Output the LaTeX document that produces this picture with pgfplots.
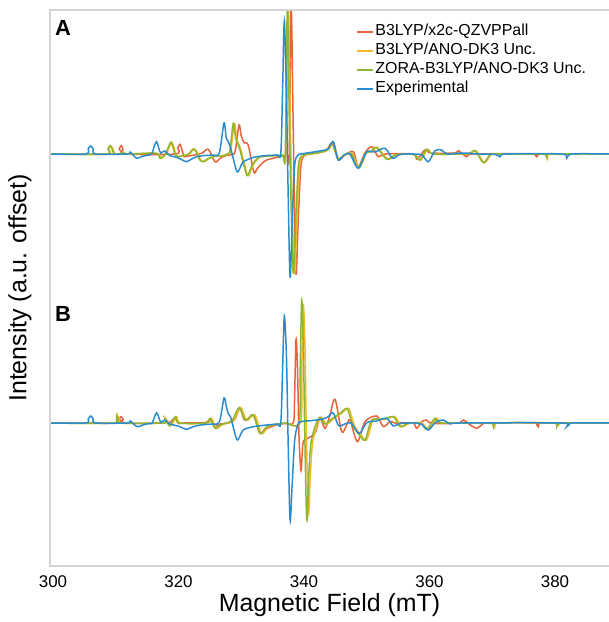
\documentclass[border=0pt]{standalone}
\usepackage{pgfplots}
\pgfplotsset{compat=1.18}
\usepackage{fontspec}
\setmainfont{Liberation Sans}
\definecolor{cRed}{RGB}{232,98,60}
\definecolor{cYel}{RGB}{242,184,40}
\definecolor{cGrn}{RGB}{140,182,52}
\definecolor{cBlu}{RGB}{42,140,208}
\definecolor{cFrame}{RGB}{212,212,212}
\begin{document}
\begin{tikzpicture}
\useasboundingbox (0,0) rectangle (609bp,622bp);
\begin{axis}[
 at={(50bp,56bp)}, anchor=south west,
 scale only axis, width=559bp, height=556bp,
 xmin=299.52, xmax=388.6, ymin=0, ymax=556,
 xtick={300,320,...,380}, ytick=\empty,
 major tick length=0pt,
 axis line style={draw=none},
 /pgf/number format/assume math mode=true,
 /pgf/number format/1000 sep={},
 xticklabel style={font=\fontsize{17}{20}\selectfont, anchor=center, yshift=-16bp},
 xlabel={Magnetic Field (mT)},
 ylabel={Intensity (a.u. offset)},
 every axis x label/.style={at={(axis description cs:0.5,-0.0705)}, anchor=center, font=\fontsize{25}{29}\selectfont},
 every axis y label/.style={at={(axis description cs:-0.0537,0.5)}, rotate=90, anchor=center, font=\fontsize{25}{29}\selectfont},
 legend style={draw=none, fill=none, at={(axis description cs:0.548,0.977)}, anchor=north west, font=\fontsize{16}{19}\selectfont, row sep=1bp, inner sep=0pt, nodes={inner sep=1.5bp, text height=11.5bp, text depth=3.5bp}},
 legend cell align=left,
 legend image code/.code={\draw[#1, line width=1.4pt] (0bp,0bp) -- (16bp,0bp);},
 every axis plot/.append style={line width=1.5pt, smooth},
 extra description/.code={\draw[cFrame, line width=1.4pt] (rel axis cs:1,1) -- (rel axis cs:0,1) -- (rel axis cs:0,0) -- (rel axis cs:1,0);},
]
% ---------------- Panel A (baseline 412) ----------------
\addplot[cRed] coordinates {(299.5,412) (310.2,412) (310.55,417) (310.85,420.3) (311.15,417) (311.5,412) (319.5,412) (319.9,418) (320.24,421.7) (320.6,415) (320.9,409.3) (321.6,410) (322.6,411) (323.8,413) (324.75,416.7) (325.81,404.3) (326.5,407) (327.3,410) (328.2,411) (329.0,414) (329.64,441) (330.0,430) (330.5,423) (331.1,421) (332.0,394) (332.5,397) (333.2,402) (334.0,406) (335.1,407.7) (336.4,410) (337.3,411) (337.65,413) (337.95,560) (338.3,430) (338.7,293.3) (339.1,350) (339.5,400) (340.0,410) (340.5,411.5) (341.5,412.5) (342.5,413.5) (343.6,415.5) (344.41,422.7) (345.46,407.7) (346.5,411) (347.85,414.3) (348.65,399.3) (349.7,413) (350.79,419.3) (351.84,409.3) (353.0,412) (357.4,412) (358.0,406.7) (359.28,416) (360.2,413) (364.0,413) (364.59,415.3) (365.92,409.3) (367.0,412) (376.5,412) (377.08,409.3) (377.7,412) (388.6,412)};
\addlegendentry{B3LYP/x2c-QZVPPall}
\addplot[cYel] coordinates {(299.5,412) (308.5,412) (308.85,417) (309.2,420.3) (309.55,417) (309.9,412) (310.7,412) (311.3,413.7) (311.9,412) (316.5,412.7) (317.2,407.7) (318.0,412) (318.6,420) (318.95,423.7) (319.3,418) (319.55,412) (320.05,409.3) (320.95,410.5) (321.75,412) (322.5,417) (323.05,413) (323.55,406) (324.1,404.3) (324.75,407) (325.75,409.5) (326.95,410) (327.95,412) (328.35,416) (328.88,442.7) (329.25,428) (329.55,422.7) (329.95,416) (331.0,391) (331.55,396) (332.05,402.7) (333.05,409) (334.65,410) (336.65,411) (337.15,413) (337.5,560) (337.85,430) (338.45,294.3) (338.9,350) (339.3,400) (339.8,410) (340.35,411.5) (341.65,412.5) (342.95,414) (343.95,416.5) (344.7,423) (345.55,406.7) (346.55,411) (347.65,412.5) (348.8,398.3) (349.95,413) (350.75,414) (351.65,418.7) (353.35,406.7) (354.65,411) (356.65,412) (357.75,411) (358.63,406) (359.7,416.7) (360.75,412) (366.15,412.3) (367.4,415.3) (368.72,403.3) (369.75,411) (370.65,412) (378.15,412) (378.82,408.7) (379.45,412) (388.6,412)};
\addlegendentry{B3LYP/ANO-DK3 Unc.}
\addplot[cGrn] coordinates {(299.5,412) (308.4,412) (308.75,417) (309.08,420.3) (309.4,417) (309.75,412) (310.6,412) (311.2,413.7) (311.8,412) (316.4,412.7) (317.05,407.7) (317.9,412) (318.45,420) (318.8,423.7) (319.15,418) (319.4,412) (319.9,409.3) (320.8,410.5) (321.6,412) (322.36,417) (322.9,413) (323.4,406) (323.95,404.3) (324.6,407) (325.6,409.5) (326.8,410) (327.8,412) (328.2,416) (328.73,442.7) (329.1,428) (329.4,422.7) (329.8,416) (330.87,391) (331.4,396) (331.92,402.7) (332.9,409) (334.5,410) (336.5,411) (337.0,413) (337.35,560) (337.7,430) (338.25,294.3) (338.7,350) (339.1,400) (339.6,410) (340.2,411.5) (341.5,412.5) (342.8,414) (343.8,416.5) (344.55,423) (345.4,406.7) (346.4,411) (347.5,412.5) (348.65,398.3) (349.8,413) (350.6,414) (351.5,418.7) (353.2,406.7) (354.5,411) (356.5,412) (357.6,411) (358.48,406) (359.55,416.7) (360.6,412) (366.0,412.3) (367.25,415.3) (368.57,403.3) (369.6,411) (370.5,412) (378.0,412) (378.67,408.7) (379.3,412) (388.6,412)};
\addlegendentry{ZORA-B3LYP/ANO-DK3 Unc.}
\addplot[cBlu] coordinates {(299.5,412) (305.2,412) (305.6,417) (306.0,420) (306.4,417) (306.8,412) (311.8,412) (312.3,414) (313.3,407.7) (314.1,409.5) (314.9,410.5) (315.7,412) (316.15,420) (316.5,424.3) (316.85,418) (317.15,413) (317.8,415) (318.6,410.5) (319.8,408.5) (320.6,406) (321.3,404.3) (322.1,407) (322.9,409.3) (324.2,410.5) (325.5,411) (326.5,413) (327.25,443) (327.6,428) (327.95,424) (328.3,418) (329.27,395) (329.8,398) (330.3,404) (331.9,408.5) (334.1,410.5) (335.7,411) (336.3,413) (336.6,480) (336.86,545) (337.2,470) (337.45,380) (337.77,289) (338.1,340) (338.5,400) (339.0,410.5) (339.5,412) (341.0,413.5) (342.5,415) (343.8,417) (344.67,424.3) (345.42,406) (346.4,411) (347.3,412) (348.65,397.7) (349.99,414) (351.3,414) (352.91,417.7) (354.13,407.7) (355.3,411.5) (357.5,412) (358.8,411) (359.81,404.3) (360.87,415.3) (361.94,416) (362.74,412) (365,413) (368,412) (370.5,411.5) (371.23,409.3) (372.2,412) (381.0,412) (381.86,407.7) (382.7,412) (388.6,412)};
\addlegendentry{Experimental}
% ---------------- Panel B (baseline 143) ----------------
\addplot[cRed, forget plot] coordinates {(299.5,143) (310.2,143) (310.55,147) (310.85,149.3) (311.15,147) (311.5,143) (317.5,143) (318.0,145.5) (318.5,143) (319.44,148) (320.0,142.5) (320.8,143) (324.3,143.5) (325.02,147) (325.81,140) (326.7,142) (328.3,143.5) (329.0,147) (329.8,157.7) (330.4,147) (330.9,146) (331.92,151) (332.99,132.7) (334.0,137) (335.5,141) (337.0,142.5) (338.3,143.5) (338.5,170) (338.72,226) (338.95,200) (339.2,130) (339.52,95.3) (339.84,123) (340.43,127) (341.75,133) (342.55,147.7) (343.34,137.7) (344.1,150) (344.94,166.7) (346.0,134.3) (346.8,141) (347.33,146) (348.5,124.3) (349.72,144.3) (351.58,150) (352.64,139.3) (353.7,144.5) (354.5,143) (357.3,143) (357.96,137.7) (358.7,144) (359.5,146) (360.5,142.5) (364.6,143) (365.39,146) (366.5,141) (367.52,137.7) (368.5,142) (369.2,143) (376.8,143) (377.33,139.3) (377.9,143) (388.6,143)};
\addplot[cYel, forget plot] coordinates {(299.5,143) (309.8,143) (310.35,149.7) (310.9,143) (317.7,143) (318.2,145.5) (318.8,140.3) (319.7,149.3) (320.3,143) (324.6,143) (325.25,147.7) (326.05,137.7) (326.85,141) (327.85,143) (328.85,146) (329.9,158.5) (330.65,148) (331.1,146) (332.15,151) (333.25,132.5) (334.3,139.3) (335.95,142) (337.2,143) (339.45,143.5) (339.65,200) (339.89,261) (340.15,220) (340.35,140) (340.7,52.7) (341.0,90) (341.35,122.7) (342.0,139.3) (342.45,146) (342.8,148.7) (343.6,142) (344.75,147.5) (345.85,152) (347.05,157.7) (347.55,150) (348.1,139.3) (348.95,132) (349.97,126) (351.04,146) (352.75,146.5) (354.48,149.3) (355.55,139.3) (356.75,142.5) (358.75,143) (359.8,136.7) (361.12,147.7) (362.15,143) (369.75,143) (370.41,139.3) (371.15,143) (379.85,143) (380.52,139.3) (381.25,143) (388.6,143)};
\addplot[cGrn, forget plot] coordinates {(299.5,143) (309.6,143) (310.15,149.7) (310.7,143) (317.5,143) (318.0,145.5) (318.6,140.3) (319.5,149.3) (320.1,143) (324.4,143) (325.02,147.7) (325.81,137.7) (326.6,141) (327.6,143) (328.6,146) (329.64,158.5) (330.4,148) (330.87,146) (331.92,151) (332.99,132.5) (334.05,139.3) (335.7,142) (337.0,143) (339.2,143.5) (339.4,200) (339.63,266) (339.9,220) (340.1,140) (340.43,46) (340.75,90) (341.1,122.7) (341.75,139.3) (342.2,146) (342.55,148.7) (343.34,142) (344.5,147.5) (345.6,152) (346.8,157.7) (347.3,150) (347.85,139.3) (348.7,132) (349.72,126) (350.79,146) (352.5,146.5) (354.23,149.3) (355.3,139.3) (356.5,142.5) (358.5,143) (359.55,136.7) (360.87,147.7) (361.9,143) (369.5,143) (370.16,139.3) (370.9,143) (379.6,143) (380.27,139.3) (381.0,143) (388.6,143)};
\addplot[cBlu, forget plot] coordinates {(299.5,143) (305.2,143) (305.6,147) (306.0,150) (306.4,147) (306.8,143) (311.8,143) (312.3,145) (313.4,139.3) (314.3,141) (315.3,142.5) (315.8,143) (316.52,153.3) (317.15,144) (317.8,146) (318.6,142) (319.9,140) (321.3,136.7) (322.2,139) (323.5,141) (325.3,142) (326.5,144) (327.25,168) (327.6,160) (327.95,152) (328.35,148) (329.27,126.7) (329.8,130) (330.3,136) (331.9,139.3) (334.05,141) (335.7,142) (336.3,143.5) (336.6,200) (336.86,250) (337.2,210) (337.45,130) (337.77,46) (338.1,80) (338.5,125) (339.0,141) (339.5,144.3) (341.3,145.5) (343.0,147) (343.9,149.5) (344.67,153) (345.5,140.5) (346.5,142) (347.5,143) (348.8,132.5) (349.99,143.3) (351.5,145) (353.18,147.7) (354.23,140) (355.3,142.5) (357.5,143) (358.8,141.5) (359.81,136) (361.0,144) (362.2,146) (363.26,142) (365,143) (381.0,143) (381.86,139.3) (382.7,143) (388.6,143)};
% panel letters
\node[font=\fontsize{22}{26}\selectfont\bfseries] at (axis cs:301.6,538) {A};
\node[font=\fontsize{22}{26}\selectfont\bfseries] at (axis cs:301.6,252) {B};
\end{axis}
\end{tikzpicture}
\end{document}
